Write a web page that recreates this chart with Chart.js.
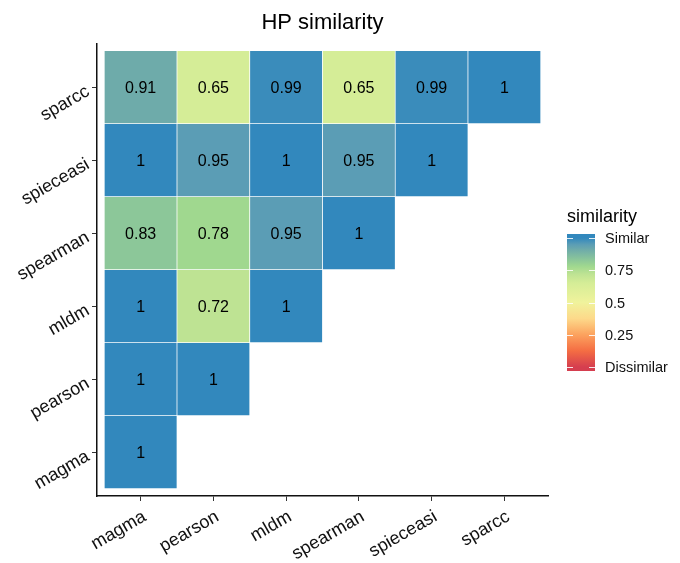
<!DOCTYPE html>
<html>
<head>
<meta charset="utf-8">
<script src="https://cdn.jsdelivr.net/npm/chart.js@4.4.1/dist/chart.umd.min.js"></script>
<style>
html,body{margin:0;padding:0;background:#fff;}
</style>
</head>
<body>
<canvas id="grafico" width="680" height="563"></canvas>
<script>
// categorias (x de izquierda a derecha, y de abajo hacia arriba)
const metodos = ['magma', 'pearson', 'mldm', 'spearman', 'spieceasi', 'sparcc'];

// una fila por categoria y, valores para las columnas 0..fila
const filaMagma = [1];
const filaPearson = [1, 1];
const filaMldm = [1, 0.72, 1];
const filaSpearman = [0.83, 0.78, 0.95, 1];
const filaSpieceasi = [1, 0.95, 1, 0.95, 1];
const filaSparcc = [0.91, 0.65, 0.99, 0.65, 0.99, 1];
const filas = [filaMagma, filaPearson, filaMldm, filaSpearman, filaSpieceasi, filaSparcc];

// leyenda
const leyendaValores = [1, 0.75, 0.5, 0.25, 0];
const leyendaTextos = ['Similar', '0.75', '0.5', '0.25', 'Dissimilar'];

// escala de color (tipo Spectral)
const escala = [
    [0, '#D53E4F'], [0.125, '#F46D43'], [0.25, '#FCA25E'], [0.375, '#FDD98A'],
    [0.5, '#F0F39C'], [0.65, '#D5ED97'], [0.72, '#BEE393'], [0.78, '#A0D88F'],
    [0.83, '#8CC799'], [0.91, '#6EABAA'], [0.95, '#5B9DB5'], [1, '#3288BD']
];

const fuente = '"Liberation Sans", Arial, sans-serif';

function hexRgb(h){
    return [parseInt(h.substr(1,2),16), parseInt(h.substr(3,2),16), parseInt(h.substr(5,2),16)];
}
function colorPara(v){
    for(let i=1;i<escala.length;i++){
        if(v<=escala[i][0]){
            const a=escala[i-1], b=escala[i];
            const t=(v-a[0])/(b[0]-a[0]);
            const ca=hexRgb(a[1]), cb=hexRgb(b[1]);
            const c=ca.map((x,k)=>Math.round(x+(cb[k]-x)*t));
            return 'rgb('+c.join(',')+')';
        }
    }
    return escala[escala.length-1][1];
}

let celdas=[];
filas.forEach((fila,r)=>{
    fila.forEach((v,c)=>{
        celdas.push({x:c, y:[r-0.5, r+0.5], v:v});
    });
});

const etiquetas={
    id:'etiquetas',
    afterDatasetsDraw(chart){
        const ctx=chart.ctx;
        const meta=chart.getDatasetMeta(0);
        ctx.save();
        ctx.font='16px '+fuente;
        ctx.fillStyle='#000';
        ctx.textAlign='center';
        ctx.textBaseline='middle';
        meta.data.forEach((bar,i)=>{
            const p=bar.getCenterPoint();
            ctx.fillText(String(celdas[i].v), p.x, p.y+1);
        });
        ctx.restore();
    }
};

const barraColor={
    id:'barraColor',
    afterDraw(chart){
        const ctx=chart.ctx;
        const x0=567, ancho=28;
        const yCero=367, yUno=238;
        const yPara=v=>yCero+(yUno-yCero)*v;
        ctx.save();
        ctx.font='18px '+fuente;
        ctx.fillStyle='#000';
        ctx.textAlign='left';
        ctx.textBaseline='middle';
        ctx.fillText('similarity', x0, 217);
        const grad=ctx.createLinearGradient(0, yCero, 0, yUno);
        escala.forEach(s=>grad.addColorStop(s[0], s[1]));
        ctx.fillStyle=grad;
        ctx.fillRect(x0, yUno-4, ancho, yCero-yUno+8);
        ctx.strokeStyle='rgba(255,255,255,0.85)';
        ctx.lineWidth=1;
        ctx.font='14.5px '+fuente;
        ctx.fillStyle='#111';
        leyendaValores.forEach((v,i)=>{
            const y=Math.round(yPara(v))+0.5;
            ctx.beginPath();
            ctx.moveTo(x0, y); ctx.lineTo(x0+6, y);
            ctx.moveTo(x0+ancho-6, y); ctx.lineTo(x0+ancho, y);
            ctx.stroke();
            ctx.fillText(leyendaTextos[i], x0+ancho+10, y);
        });
        ctx.restore();
    }
};

function eje(extra){
    return Object.assign({
        type:'linear',
        min:-0.6,
        max:5.6,
        offset:false,
        afterBuildTicks:s=>{ s.ticks=metodos.map((m,i)=>({value:i})); },
        grid:{drawOnChartArea:false, drawTicks:true, offset:false, tickLength:5, color:'#333', lineWidth:1},
        border:{display:true, color:'#111', width:1.5}
    }, extra);
}

new Chart(document.getElementById('grafico'),{
    type:'bar',
    data:{
        datasets:[{
            data:celdas,
            backgroundColor:ctx=>ctx.raw ? colorPara(ctx.raw.v) : '#fff',
            borderColor:'#fff',
            borderWidth:0.7,
            borderSkipped:false,
            barPercentage:1,
            categoryPercentage:1,
            grouped:false
        }]
    },
    options:{
        responsive:false,
        animation:false,
        devicePixelRatio:1,
        layout:{padding:{left:0, right:132, top:0, bottom:0}},
        scales:{
            x:eje({
                afterFit:s=>{ s.height=67; },
                ticks:{
                    callback:v=>metodos[v],
                    autoSkip:false, minRotation:30, maxRotation:30,
                    color:'#111', font:{family:fuente, size:18},
                    padding:5, labelOffset:4
                }
            }),
            y:eje({
                afterFit:s=>{ s.width=97; },
                ticks:{
                    callback:v=>metodos[v],
                    autoSkip:false, minRotation:30, maxRotation:30,
                    color:'#111', font:{family:fuente, size:18},
                    padding:4, labelOffset:3
                }
            })
        },
        plugins:{
            legend:{display:false},
            tooltip:{enabled:false},
            title:{
                display:true,
                text:'HP similarity',
                fullSize:false,
                color:'#000',
                font:{family:fuente, size:22, weight:'normal'},
                padding:{top:10, bottom:7}
            }
        }
    },
    plugins:[etiquetas, barraColor]
});
</script>
</body>
</html>
